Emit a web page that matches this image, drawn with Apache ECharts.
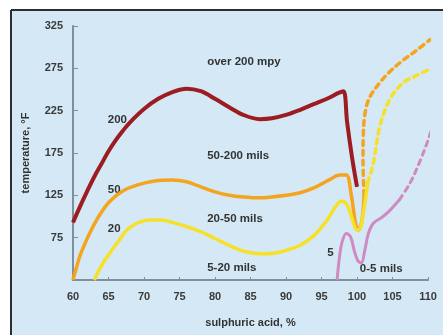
<!DOCTYPE html>
<html>
<head>
<meta charset="utf-8">
<script src="https://cdn.jsdelivr.net/npm/echarts@6/dist/echarts.min.js"></script>
<style>
  html, body { margin: 0; padding: 0; background: #ffffff; overflow: hidden; }
  #chart { position: absolute; left: 0; top: 0; width: 443px; height: 335px; }
</style>
</head>
<body>
<div id="chart"></div>
<script>
// ---- data (x = sulphuric acid %, y = temperature °F) ----
const xTicks = [60, 65, 70, 75, 80, 85, 90, 95, 100, 105, 110];
const yTicks = [75, 125, 175, 225, 275, 325];
const yBase = 25;

const curve200 = [[60, 93], [61, 112], [62, 130], [63, 147], [64, 162], [65, 177], [66, 190], [67, 201], [68, 211], [70, 227], [72, 239], [74, 247], [76, 251], [78, 248], [80, 239], [82, 229], [84, 220], [86.3, 215], [88, 216], [90, 220], [92, 226], [94, 233], [96, 240], [97.4, 246], [98.1, 248], [98.6, 212], [99.3, 170], [100, 135]];
const curve50 = [[60, 25], [60.5, 40], [61, 54], [62, 74], [63, 91], [64, 105], [65.2, 118], [67, 130], [69, 137], [71.5, 142], [74, 143], [76, 141], [78, 135], [80, 129], [82, 125], [84, 123], [86.3, 122], [88, 123], [90, 125], [92, 128], [94, 134], [96, 143], [97.6, 149], [98.5, 149], [99.2, 125], [99.8, 92], [100.2, 84], [100.7, 95], [101, 125]];
const curve50dash = [[101, 125], [100.85, 165], [100.9, 200], [101.2, 225], [101.8, 241], [103.2, 258], [104.5, 270], [106.1, 282], [108.5, 297], [110.3, 309]];
const curve20 = [[63, 25], [64, 42], [65.2, 57], [66.5, 72], [67.6, 84], [69, 92], [70.8, 96], [72.5, 96], [74, 93], [76, 88], [78, 82], [80, 74], [82.5, 64], [84.5, 58], [86.5, 56], [88.5, 57], [90, 60], [92, 66], [94, 78], [95.8, 96], [97, 112], [97.8, 118], [98.6, 114], [99.4, 95], [100, 84], [100.5, 87], [101, 110], [101.5, 140]];
const curve20dash = [[101.5, 140], [102.3, 163], [103.2, 206], [104.6, 238], [106.5, 258], [108.5, 267], [110, 273]];
const curve5 = [[97.2, 25], [97.5, 50], [97.9, 70], [98.5, 80], [99.1, 76], [99.6, 60], [100.1, 48], [100.6, 45], [101.1, 60], [101.6, 80], [102.3, 92], [103.5, 99], [104.5, 106], [106, 120]];
const curve5dash = [[106, 120], [107.5, 140], [108.9, 166], [110, 190], [110.6, 206]];

const zoneLabels = ['over 200 mpy', '50-200 mils', '20-50 mils', '5-20 mils', '200', '50', '20', '5', '0-5 mils'];
const zoneAnchors = [[78.9, 283], [78.9, 172], [78.9, 97], [78.9, 39], [64.9, 214], [64.9, 131], [64.9, 86], [95.8, 57], [100.4, 38]];

// ---- build ----
const shift = d => d.map(p => [p[0], p[1] - yBase]);
const chart = echarts.init(document.getElementById('chart'), null, { renderer: 'canvas' });
const font = 'Liberation Sans, Arial, sans-serif';

function line(data, color, width, dashed) {
  return {
    type: 'line', data: shift(data), smooth: 0.35, symbol: 'none', clip: false,
    lineStyle: { color: color, width: width, type: dashed ? [5, 5] : 'solid', cap: dashed ? 'round' : 'butt', join: 'round' },
    silent: true
  };
}

const RED = '#9c1c22', ORANGE = '#f4a41e', YELLOW = '#f5e02a', PINK = '#d08ac2';

chart.setOption({
  animation: false,
  backgroundColor: '#ffffff',
  grid: { left: 73, right: 15, top: 26, bottom: 55 },
  xAxis: {
    type: 'value', min: xTicks[0], max: xTicks[xTicks.length - 1], interval: 5,
    name: 'sulphuric acid, %', nameLocation: 'middle', nameGap: 37,
    nameTextStyle: { color: '#333', fontSize: 11, fontFamily: font, fontWeight: 'bold' },
    axisLine: { lineStyle: { color: '#7f8f9e', width: 2 } },
    axisTick: { inside: true, length: 3, lineStyle: { color: '#7f8f9e' } },
    axisLabel: { color: '#3a3a3a', fontSize: 11, fontFamily: font, margin: 11, fontWeight: 'bold' },
    splitLine: { show: false }
  },
  yAxis: {
    type: 'value', min: 0, max: yTicks[yTicks.length - 1] - yBase, interval: 50,
    name: 'temperature, °F', nameLocation: 'middle', nameGap: 42, nameRotate: 90,
    nameTextStyle: { color: '#333', fontSize: 11, fontFamily: font, fontWeight: 'bold' },
    axisLine: { show: true, lineStyle: { color: '#7f8f9e', width: 2 } },
    axisTick: { show: true, inside: true, length: 5, lineStyle: { color: '#7f8f9e' } },
    axisLabel: { color: '#3a3a3a', fontSize: 11, fontFamily: font, margin: 10, fontWeight: 'bold', showMinLabel: false,
                 formatter: v => String(v + yBase) },
    splitLine: { show: false }
  },
  series: [
    line(curve200, RED, 4, false),
    line(curve50, ORANGE, 3.5, false),
    line(curve50dash, ORANGE, 3.5, true),
    line(curve20, YELLOW, 3.5, false),
    line(curve20dash, YELLOW, 3.5, true),
    line(curve5, PINK, 3, false),
    line(curve5dash, PINK, 3, true)
  ]
});

const texts = zoneLabels.map((t, i) => {
  const p = chart.convertToPixel({ gridIndex: 0 }, [zoneAnchors[i][0], zoneAnchors[i][1] - yBase]);
  return { type: 'text', x: p[0], y: p[1], silent: true,
           style: { text: t, fill: '#333', font: 'bold 11.5px ' + font, textAlign: 'left', textVerticalAlign: 'middle' } };
});
const frame = [
  { type: 'rect', shape: { x: 10, y: 10, width: 460, height: 360 }, style: { fill: '#d4e9f5' }, z: -10, silent: true },
  { type: 'line', shape: { x1: 11, y1: 10, x2: 470, y2: 10 }, style: { stroke: '#2e2e2e', lineWidth: 2 }, z: -9, silent: true },
  { type: 'line', shape: { x1: 11, y1: 10, x2: 11, y2: 370 }, style: { stroke: '#2e2e2e', lineWidth: 2 }, z: -9, silent: true }
];
chart.setOption({ graphic: frame.concat(texts) });
</script>
</body>
</html>
